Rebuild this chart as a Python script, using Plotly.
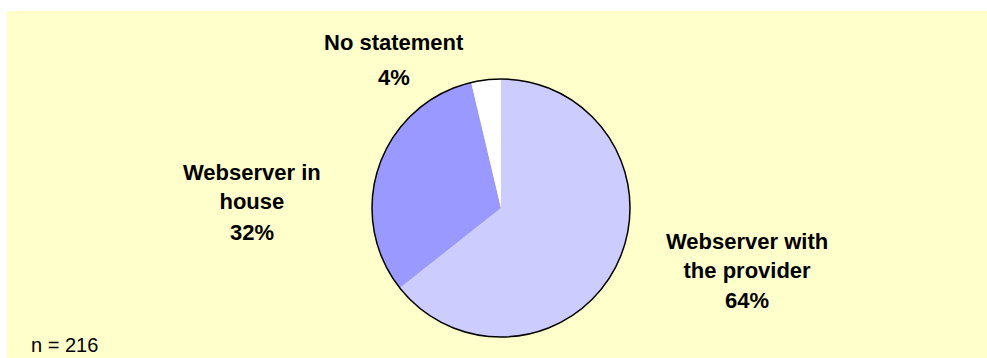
import plotly.graph_objects as go

# Data
categories = ["Webserver with the provider", "Webserver in house", "No statement"]
label_lines = ["Webserver with<br>the provider", "Webserver in<br>house", "No statement"]
values = [139, 69, 8]
pct_labels = ["64%", "32%", "4%"]
colors = ["#CCCCFF", "#9999FF", "#FFFFFF"]
n_total = 216

W, H = 987, 358
BG = "#FFFFCC"
FONT = "Liberation Sans, Arial, sans-serif"


def px(x):
    return x / W


def py(y):
    return 1 - y / H


cx, cy, r = 501, 208, 129
dom_x = [px(cx - r), px(cx + r)]
dom_y = [py(cy + r), py(cy - r)]

fig = go.Figure()
fig.add_trace(go.Pie(
    labels=categories, values=values, sort=False, direction="clockwise",
    rotation=0, textinfo="none", hoverinfo="label+percent",
    marker=dict(colors=colors, line=dict(width=0)),
    domain=dict(x=dom_x, y=dom_y), showlegend=False,
))
# outer outline
fig.add_trace(go.Pie(
    labels=["all"], values=[n_total], textinfo="none", hoverinfo="skip",
    marker=dict(colors=["rgba(0,0,0,0)"], line=dict(color="black", width=1.5)),
    domain=dict(x=dom_x, y=dom_y), showlegend=False,
))

# label positions (pixel) for name block and percentage
name_pos = [(747, 256), (252, 187), (394, 43)]
pct_pos = [(747, 300), (252, 232), (394, 78)]

annotations = []
for i in range(len(categories)):
    annotations.append(dict(
        text="<b>" + label_lines[i] + "</b>", x=px(name_pos[i][0]), y=py(name_pos[i][1]),
        xref="paper", yref="paper", xanchor="center", yanchor="middle",
        showarrow=False, font=dict(family=FONT, size=22, color="black"),
    ))
    annotations.append(dict(
        text="<b>" + pct_labels[i] + "</b>", x=px(pct_pos[i][0]), y=py(pct_pos[i][1]),
        xref="paper", yref="paper", xanchor="center", yanchor="middle",
        showarrow=False, font=dict(family=FONT, size=22, color="black"),
    ))
annotations.append(dict(
    text=f"n = {n_total}", x=px(29), y=py(345), xref="paper", yref="paper",
    xanchor="left", yanchor="middle", showarrow=False,
    font=dict(family=FONT, size=20, color="black"),
))

fig.update_layout(
    width=W, height=H, margin=dict(l=0, r=0, t=0, b=0),
    paper_bgcolor="white", plot_bgcolor="white",
    shapes=[dict(type="rect", xref="paper", yref="paper", x0=px(7), x1=1,
                 y0=0, y1=py(11), fillcolor=BG, line=dict(width=0), layer="below")],
    annotations=annotations,
)

fig.write_html(
    "out.html",
    config={"displayModeBar": False},
    post_script="document.body.style.margin='0px';document.body.style.overflow='hidden';",
)
